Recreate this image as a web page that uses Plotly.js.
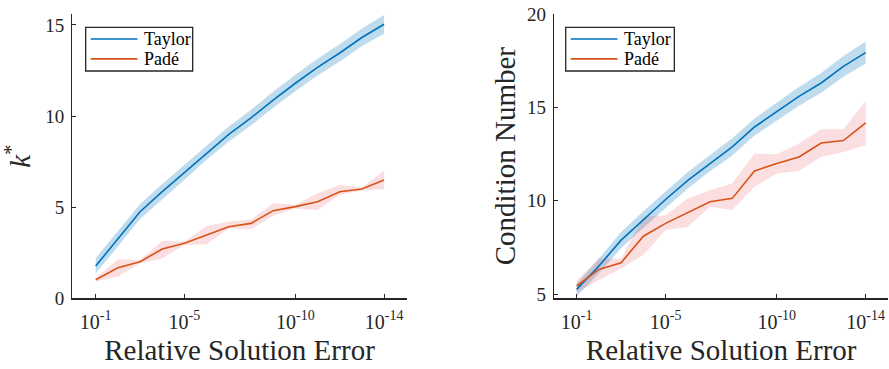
<!DOCTYPE html>
<html>
<head>
<meta charset="utf-8">
<script src="https://cdn.plot.ly/plotly-3.0.1.min.js"></script>
<style>html,body{margin:0;padding:0;background:#fff;}#chart{width:889px;height:369px;}</style>
</head>
<body>
<div id="chart"></div>
<script>
// Relative solution error (x)
const errors = [1e-1, 1e-2, 1e-3, 1e-4, 1e-5, 1e-6, 1e-7, 1e-8, 1e-9, 1e-10, 1e-11, 1e-12, 1e-13, 1e-14];
const xTickVals = [1e-1, 1e-5, 1e-10, 1e-14];
const xTickText = ['10<sup>-1</sup>', '10<sup>-5</sup>', '10<sup>-10</sup>', '10<sup>-14</sup>'];

// Left panel: k*
const kTaylor      = [1.77, 3.25, 4.75, 5.85, 6.9, 8.0, 9.0, 9.9, 10.88, 11.8, 12.67, 13.46, 14.31, 15.04];
const kTaylorUpper = [2.2, 3.68, 5.17, 6.27, 7.32, 8.42, 9.43, 10.34, 11.33, 12.26, 13.14, 13.94, 14.8, 15.55];
const kTaylorLower = [1.37, 2.84, 4.35, 5.45, 6.5, 7.6, 8.6, 9.48, 10.45, 11.36, 12.22, 13.0, 13.84, 14.52];
const kPade        = [1.02, 1.68, 2.01, 2.7, 3.02, 3.47, 3.93, 4.11, 4.81, 5.03, 5.3, 5.85, 6.0, 6.49];
const kPadeUpper   = [1.12, 2.14, 2.1, 3.14, 3.12, 3.97, 4.2, 4.33, 5.21, 5.13, 5.76, 6.22, 6.08, 7.0];
const kPadeLower   = [0.92, 1.19, 1.92, 2.19, 2.92, 2.96, 3.84, 3.79, 4.53, 4.93, 4.85, 5.67, 5.92, 5.98];

// Right panel: condition number
const cTaylor      = [5.25, 6.5, 7.89, 9.0, 10.07, 11.1, 12.02, 12.89, 13.96, 14.77, 15.6, 16.32, 17.21, 17.95];
const cTaylorUpper = [5.55, 6.9, 8.32, 9.44, 10.5, 11.54, 12.46, 13.35, 14.42, 15.25, 16.1, 16.85, 17.77, 18.55];
const cTaylorLower = [4.88, 6.12, 7.45, 8.56, 9.63, 10.66, 11.58, 12.43, 13.5, 14.29, 15.1, 15.8, 16.66, 17.37];
const cPade        = [5.43, 6.32, 6.68, 8.1, 8.79, 9.38, 9.95, 10.13, 11.6, 12.0, 12.35, 13.1, 13.23, 14.18];
const cPadeUpper   = [5.71, 6.91, 6.91, 9.14, 9.23, 10.13, 10.57, 10.93, 12.54, 12.5, 13.07, 13.84, 13.84, 15.35];
const cPadeLower   = [5.07, 5.75, 6.37, 7.09, 8.43, 8.6, 9.68, 9.5, 10.75, 11.46, 11.6, 12.35, 12.62, 12.98];

const seriesNames = ['Taylor', 'Padé'];
const lineColors = ['#0072BD', '#D95319'];
const bandColors = ['rgba(0,114,189,0.25)', 'rgba(225,60,70,0.17)'];

function band(x, up, lo, color, xa, ya) {
  return {
    x: x.concat(x.slice().reverse()),
    y: up.concat(lo.slice().reverse()),
    type: 'scatter', mode: 'lines', fill: 'toself', fillcolor: color,
    line: {width: 0, color: 'rgba(0,0,0,0)'}, hoverinfo: 'skip', showlegend: false,
    xaxis: xa, yaxis: ya
  };
}
function line(x, y, i, xa, ya) {
  return {x: x, y: y, type: 'scatter', mode: 'lines', name: seriesNames[i],
    line: {color: lineColors[i], width: 1.6}, showlegend: false, xaxis: xa, yaxis: ya};
}

const traces = [
  band(errors, kTaylorUpper, kTaylorLower, bandColors[0], 'x', 'y'),
  band(errors, kPadeUpper, kPadeLower, bandColors[1], 'x', 'y'),
  line(errors, kTaylor, 0, 'x', 'y'),
  line(errors, kPade, 1, 'x', 'y'),
  band(errors, cTaylorUpper, cTaylorLower, bandColors[0], 'x2', 'y2'),
  band(errors, cPadeUpper, cPadeLower, bandColors[1], 'x2', 'y2'),
  line(errors, cTaylor, 0, 'x2', 'y2'),
  line(errors, cPade, 1, 'x2', 'y2')
];

const W = 889, H = 369;
const axCol = '#262626';
const font = 'Liberation Serif';
const yDom = [1 - 298.3 / H, 1 - 14 / H];

function xAxis(dom, rng, anchor) {
  return {
    type: 'log', domain: dom, range: rng, anchor: anchor,
    tickvals: xTickVals, ticktext: xTickText,
    ticks: 'inside', ticklen: 4, tickwidth: 1, tickcolor: axCol,
    showline: true, linecolor: axCol, linewidth: 1.2, showgrid: false, zeroline: false,
    tickfont: {family: font, size: 20, color: axCol}, ticklabelstandoff: 5,
    title: {text: 'Relative Solution Error', font: {family: font, size: 29, color: axCol}, standoff: 8},
    automargin: false
  };
}
function yAxis(rng, vals, anchor, titleText, standoff) {
  return {
    domain: yDom, range: rng, anchor: anchor, tickvals: vals,
    ticks: 'inside', ticklen: 4, tickwidth: 1, tickcolor: axCol,
    showline: true, linecolor: axCol, linewidth: 1.2, showgrid: false, zeroline: false,
    tickfont: {family: font, size: 19, color: axCol}, ticklabelstandoff: 3,
    title: {text: titleText, font: {family: font, size: 29, color: axCol}, standoff: standoff},
    automargin: false
  };
}

// legend boxes drawn in axis-domain coordinates
const shapes = [], annotations = [];
[['x', 'y'], ['x2', 'y2']].forEach(function (p) {
  const xr = p[0] + ' domain', yr = p[1] + ' domain';
  const bx0 = p[0] === 'x' ? 0.040 : 0.035;
  shapes.push({type: 'rect', xref: xr, yref: yr, x0: bx0, x1: 0.360, y0: 0.7995, y1: 0.953,
    line: {color: axCol, width: 1.3}, fillcolor: '#fff', layer: 'above'});
  const ly = [0.912, 0.842];
  for (let i = 0; i < 2; i++) {
    shapes.push({type: 'line', xref: xr, yref: yr, x0: bx0 + 0.015, x1: bx0 + 0.155, y0: ly[i], y1: ly[i],
      line: {color: lineColors[i], width: 1.6}, layer: 'above'});
    annotations.push({xref: xr, yref: yr, x: bx0 + 0.168, y: ly[i], xanchor: 'left', yanchor: 'middle',
      text: seriesNames[i], showarrow: false, font: {family: font, size: 18, color: '#000'}});
  }
});

const layout = {
  width: W, height: H, margin: {l: 0, r: 0, t: 0, b: 0},
  paper_bgcolor: '#fff', plot_bgcolor: '#fff', showlegend: false,
  font: {family: font},
  xaxis: xAxis([72.3 / W, 406.7 / W], [0.055, -15.02], 'y'),
  yaxis: yAxis([0, 15.6], [0, 5, 10, 15], 'x', '<i>k</i><sup>*</sup>', 8),
  xaxis2: xAxis([554 / W, 888.3 / W], [0.02, -15.02], 'y2'),
  yaxis2: yAxis([4.77, 20.02], [5, 10, 15, 20], 'x2', 'Condition Number', 2),
  shapes: shapes, annotations: annotations
};

Plotly.newPlot('chart', traces, layout, {displayModeBar: false, staticPlot: true});
</script>
</body>
</html>
